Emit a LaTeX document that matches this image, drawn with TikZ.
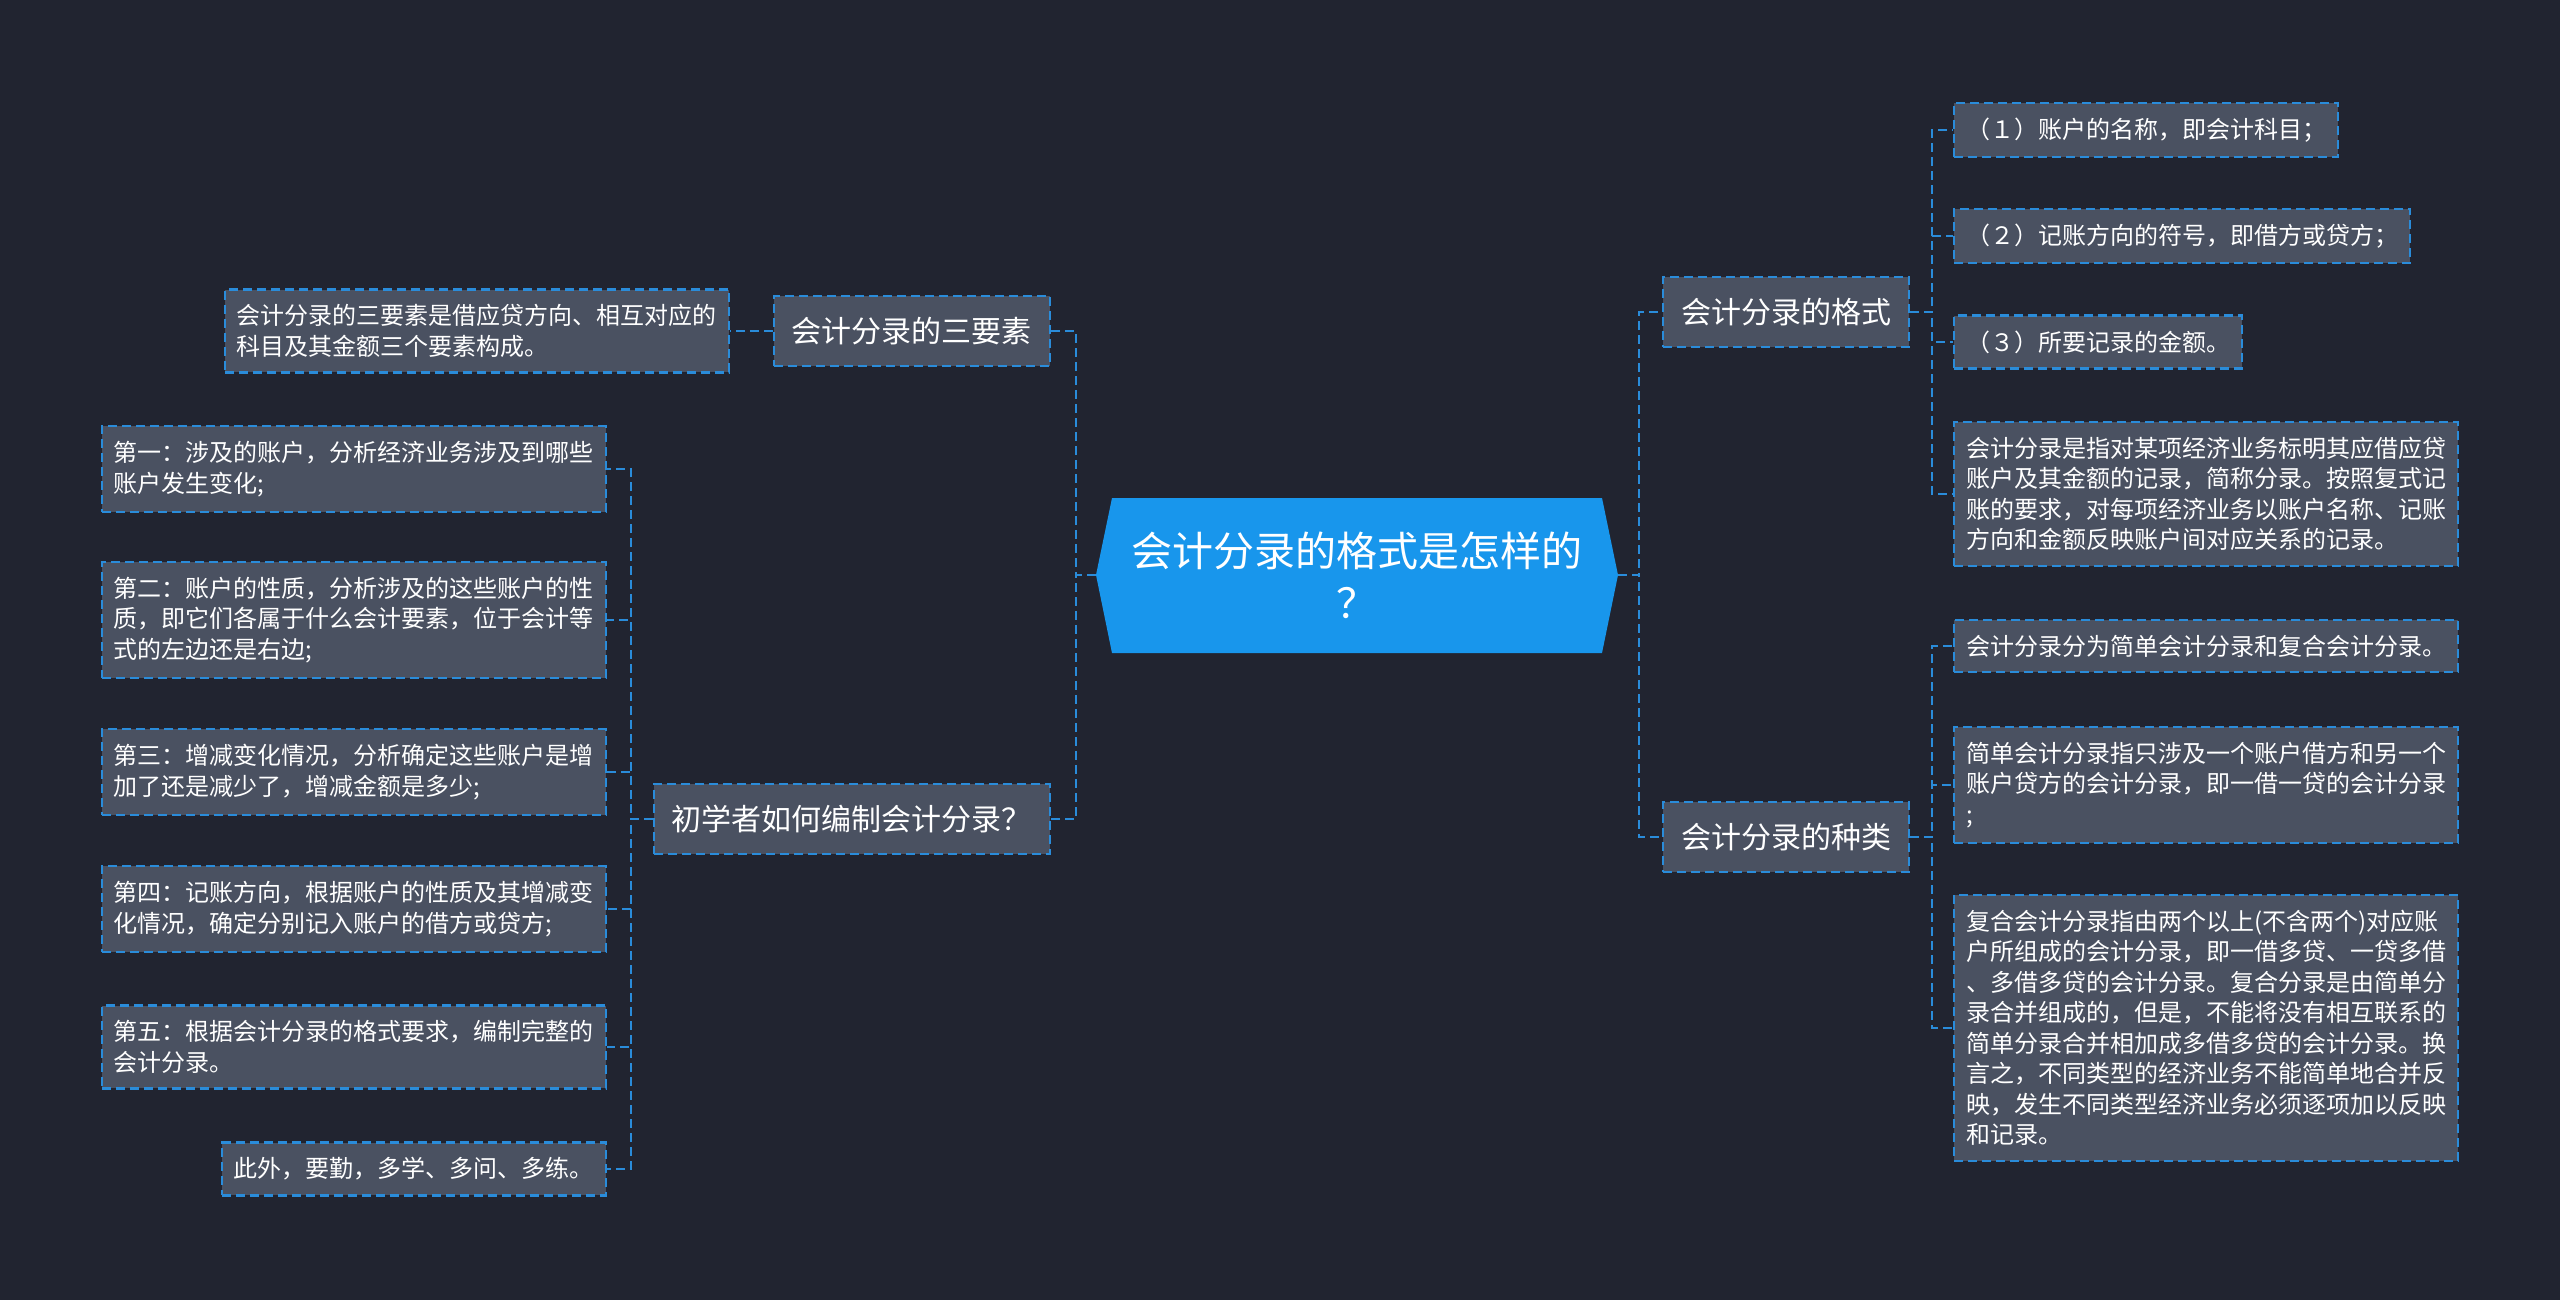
\documentclass[tikz,border=0pt]{standalone}
\usepackage{fontspec}
\setmainfont{Noto Sans CJK SC}
\definecolor{bgc}{RGB}{33,36,48}
\definecolor{nodegray}{RGB}{74,81,97}
\definecolor{lineblue}{RGB}{42,140,218}
\definecolor{hubblue}{RGB}{24,150,236}
\tikzset{
  dashline/.style={draw=lineblue, line width=2.2pt, dash pattern=on 9pt off 5pt},
  lvlone/.style={dashline, fill=nodegray, text=white, font=\fontsize{30}{36}\selectfont, inner xsep=18pt, inner ysep=21pt},
  leaf/.style={dashline, fill=nodegray, text=white, font=\fontsize{24}{30.5}\selectfont, align=left, inner xsep=12pt, inner ysep=15pt},
  link/.style={dashline}
}
\begin{document}
\begin{tikzpicture}[x=1pt,y=-1pt]
\fill[bgc] (0,0) rectangle (2560,1300);
% central hexagon
\fill[hubblue] (1112,498) -- (1602,498) -- (1618,575) -- (1602,653) -- (1112,653) -- (1096,575) -- cycle;
\node[minimum width=522pt, minimum height=155pt, inner sep=0pt, align=center, text=white,
      font=\fontsize{41}{52}\selectfont] (c) at (1357,575) {会计分录的格式是怎样的\\？};

% right level one
\node[lvlone, anchor=west] (fmt) at (1662,312) {会计分录的格式};
\node[lvlone, anchor=west] (kind) at (1662,837) {会计分录的种类};
% left level one
\node[lvlone, anchor=east] (ele) at (1051,331) {会计分录的三要素};
\node[lvlone, anchor=east] (how) at (1051,819) {初学者如何编制会计分录？};

% right leaves
\node[leaf, anchor=west] (c1) at (1953,130) {（１）账户的名称，即会计科目；};
\node[leaf, anchor=west] (c2) at (1953,236) {（２）记账方向的符号，即借方或贷方；};
\node[leaf, anchor=west] (c3) at (1953,342) {（３）所要记录的金额。};
\node[leaf, anchor=west] (c4) at (1953,494) {会计分录是指对某项经济业务标明其应借应贷\\账户及其金额的记录，简称分录。按照复式记\\账的要求，对每项经济业务以账户名称、记账\\方向和金额反映账户间对应关系的记录。};
\node[leaf, anchor=west] (k1) at (1953,646) {会计分录分为简单会计分录和复合会计分录。};
\node[leaf, anchor=west] (k2) at (1953,785) {简单会计分录指只涉及一个账户借方和另一个\\账户贷方的会计分录，即一借一贷的会计分录\\;};
\node[leaf, anchor=west] (k3) at (1953,1028) {复合会计分录指由两个以上(不含两个)对应账\\户所组成的会计分录，即一借多贷、一贷多借\\、多借多贷的会计分录。复合分录是由简单分\\录合并组成的，但是，不能将没有相互联系的\\简单分录合并相加成多借多贷的会计分录。换\\言之，不同类型的经济业务不能简单地合并反\\映，发生不同类型经济业务必须逐项加以反映\\和记录。};

% left leaves
\node[leaf, anchor=east] (e1) at (730,331) {会计分录的三要素是借应贷方向、相互对应的\\科目及其金额三个要素构成。};
\node[leaf, anchor=east] (h1) at (607,469) {第一：涉及的账户，分析经济业务涉及到哪些\\账户发生变化;};
\node[leaf, anchor=east] (h2) at (607,620) {第二：账户的性质，分析涉及的这些账户的性\\质，即它们各属于什么会计要素，位于会计等\\式的左边还是右边;};
\node[leaf, anchor=east] (h3) at (607,772) {第三：增减变化情况，分析确定这些账户是增\\加了还是减少了，增减金额是多少;};
\node[leaf, anchor=east] (h4) at (607,909) {第四：记账方向，根据账户的性质及其增减变\\化情况，确定分别记入账户的借方或贷方;};
\node[leaf, anchor=east] (h5) at (607,1047) {第五：根据会计分录的格式要求，编制完整的\\会计分录。};
\node[leaf, anchor=east] (h6) at (607,1169) {此外，要勤，多学、多问、多练。};

% connectors from centre
\draw[link] (c.east) -- ++(21,0) |- (fmt.west);
\draw[link] (c.east) -- ++(21,0) |- (kind.west);
\draw[link] (c.west) -- ++(-20,0) |- (ele.east);
\draw[link] (c.west) -- ++(-20,0) |- (how.east);

% right sub-connectors
\foreach \t in {c1,c2,c3,c4} \draw[link] (fmt.east) -- ++(22,0) |- (\t.west);
\foreach \t in {k1,k2,k3} \draw[link] (kind.east) -- ++(22,0) |- (\t.west);
% left sub-connectors
\draw[link] (ele.west) -- (e1.east);
\foreach \t in {h1,h2,h3,h4,h5,h6} \draw[link] (how.west) -- ++(-22,0) |- (\t.east);
\end{tikzpicture}
\end{document}
